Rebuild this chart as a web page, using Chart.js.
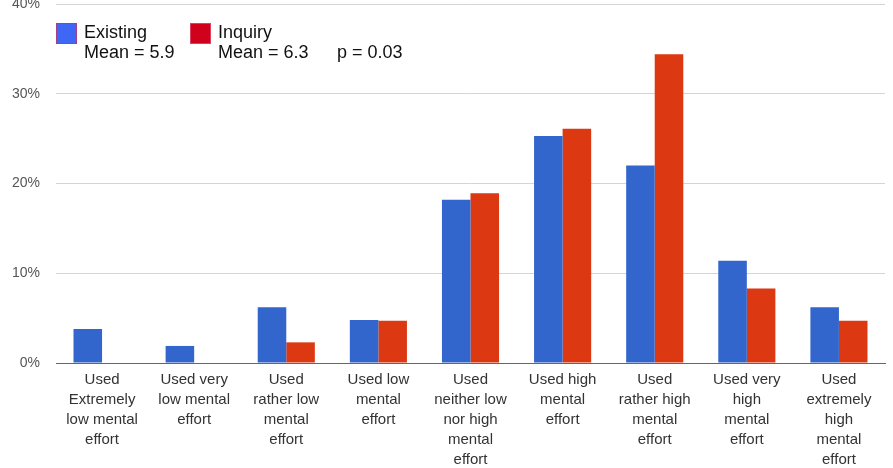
<!DOCTYPE html>
<html>
<head>
<meta charset="utf-8">
<script src="https://cdn.jsdelivr.net/npm/chart.js@4.4.1/dist/chart.umd.min.js"></script>
<style>
  html, body { margin: 0; padding: 0; background: #fff; }
  #wrap { position: relative; width: 893px; height: 468px; }
</style>
</head>
<body>
<div id="wrap"><canvas id="effortChart"></canvas></div>
<script>
const categories = [
    ['Used', 'Extremely', 'low mental', 'effort'],
    ['Used very', 'low mental', 'effort'],
    ['Used', 'rather low', 'mental', 'effort'],
    ['Used low', 'mental', 'effort'],
    ['Used', 'neither low', 'nor high', 'mental', 'effort'],
    ['Used high', 'mental', 'effort'],
    ['Used', 'rather high', 'mental', 'effort'],
    ['Used very', 'high', 'mental', 'effort'],
    ['Used', 'extremely', 'high', 'mental', 'effort'],
];
const existing = [3.8, 1.9, 6.2, 4.8, 18.2, 25.3, 22.0, 11.4, 6.2];
const inquiry = [0, 0, 2.3, 4.7, 18.9, 26.1, 34.4, 8.3, 4.7];
const yTicks = [0, 10, 20, 30, 40];
const seriesNames = ['Existing', 'Inquiry'];
const seriesNotes = ['Mean = 5.9', 'Mean = 6.3'];
const extraNote = 'p = 0.03';

const FONT = '"Liberation Sans", Arial, sans-serif';

// legend drawn inside the plot, top-left, like the original
const legendInPlot = {
    id: 'legendInPlot',
    afterDraw(chart) {
        const ctx = chart.ctx;
        const left = chart.chartArea.left;
        const items = chart.data.datasets;
        const xs = [left, left + 134];
        ctx.save();
        ctx.font = '18px ' + FONT;
        ctx.textBaseline = 'middle';
        items.forEach((ds, i) => {
            const x = xs[i];
            ctx.fillStyle = i === 0 ? '#3f67f5' : '#d0021b';
            ctx.fillRect(x, 23, 21, 21);
            ctx.strokeStyle = i === 0 ? '#a0408a' : '#e04060';
            ctx.lineWidth = 1;
            ctx.strokeRect(x + 0.5, 23.5, 20, 20);
            ctx.fillStyle = '#111';
            ctx.fillText(seriesNames[i], x + 28, 33);
            ctx.fillText(seriesNotes[i], x + 28, 53);
        });
        ctx.fillText(extraNote, xs[1] + 147, 53);
        ctx.restore();
    },
};

new Chart(document.getElementById('effortChart'), {
    type: 'bar',
    data: {
        labels: categories,
        datasets: [
            {
                label: seriesNames[0],
                data: existing,
                backgroundColor: '#3366cc',
                borderWidth: 0,
            },
            {
                label: seriesNames[1],
                data: inquiry,
                backgroundColor: '#dc3912',
                borderWidth: 0,
            },
        ],
    },
    options: {
        responsive: true,
        maintainAspectRatio: false,
        animation: false,
        layout: { padding: { top: 4, right: 8, left: 0, bottom: 0 } },
        plugins: {
            legend: { display: false },
            tooltip: { enabled: false },
        },
        datasets: {
            bar: { categoryPercentage: 0.62, barPercentage: 1.0 },
        },
        scales: {
            x: {
                grid: { display: false, drawTicks: false },
                border: { display: true, color: '#666', width: 1 },
                ticks: {
                    padding: 7,
                    maxRotation: 0,
                    autoSkip: false,
                    color: '#333',
                    font: { family: FONT, size: 15, lineHeight: 1.333 },
                },
                afterFit(scale) { scale.height = 105; },
            },
            y: {
                min: 0,
                max: 40,
                afterBuildTicks(scale) { scale.ticks = yTicks.map(v => ({ value: v })); },
                grid: {
                    drawTicks: false,
                    color: ctx => (ctx.tick && ctx.tick.value === 0 ? '#666' : '#d4d4d4'),
                },
                border: { display: false },
                ticks: {
                    padding: 16,
                    color: '#555',
                    font: { family: FONT, size: 14 },
                    callback: v => v + '%',
                },
                afterFit(scale) {
                    scale.width = 56;
                    scale.paddingTop = 0;
                    scale.paddingBottom = 0;
                },
            },
        },
    },
    plugins: [legendInPlot],
});
</script>
</body>
</html>
